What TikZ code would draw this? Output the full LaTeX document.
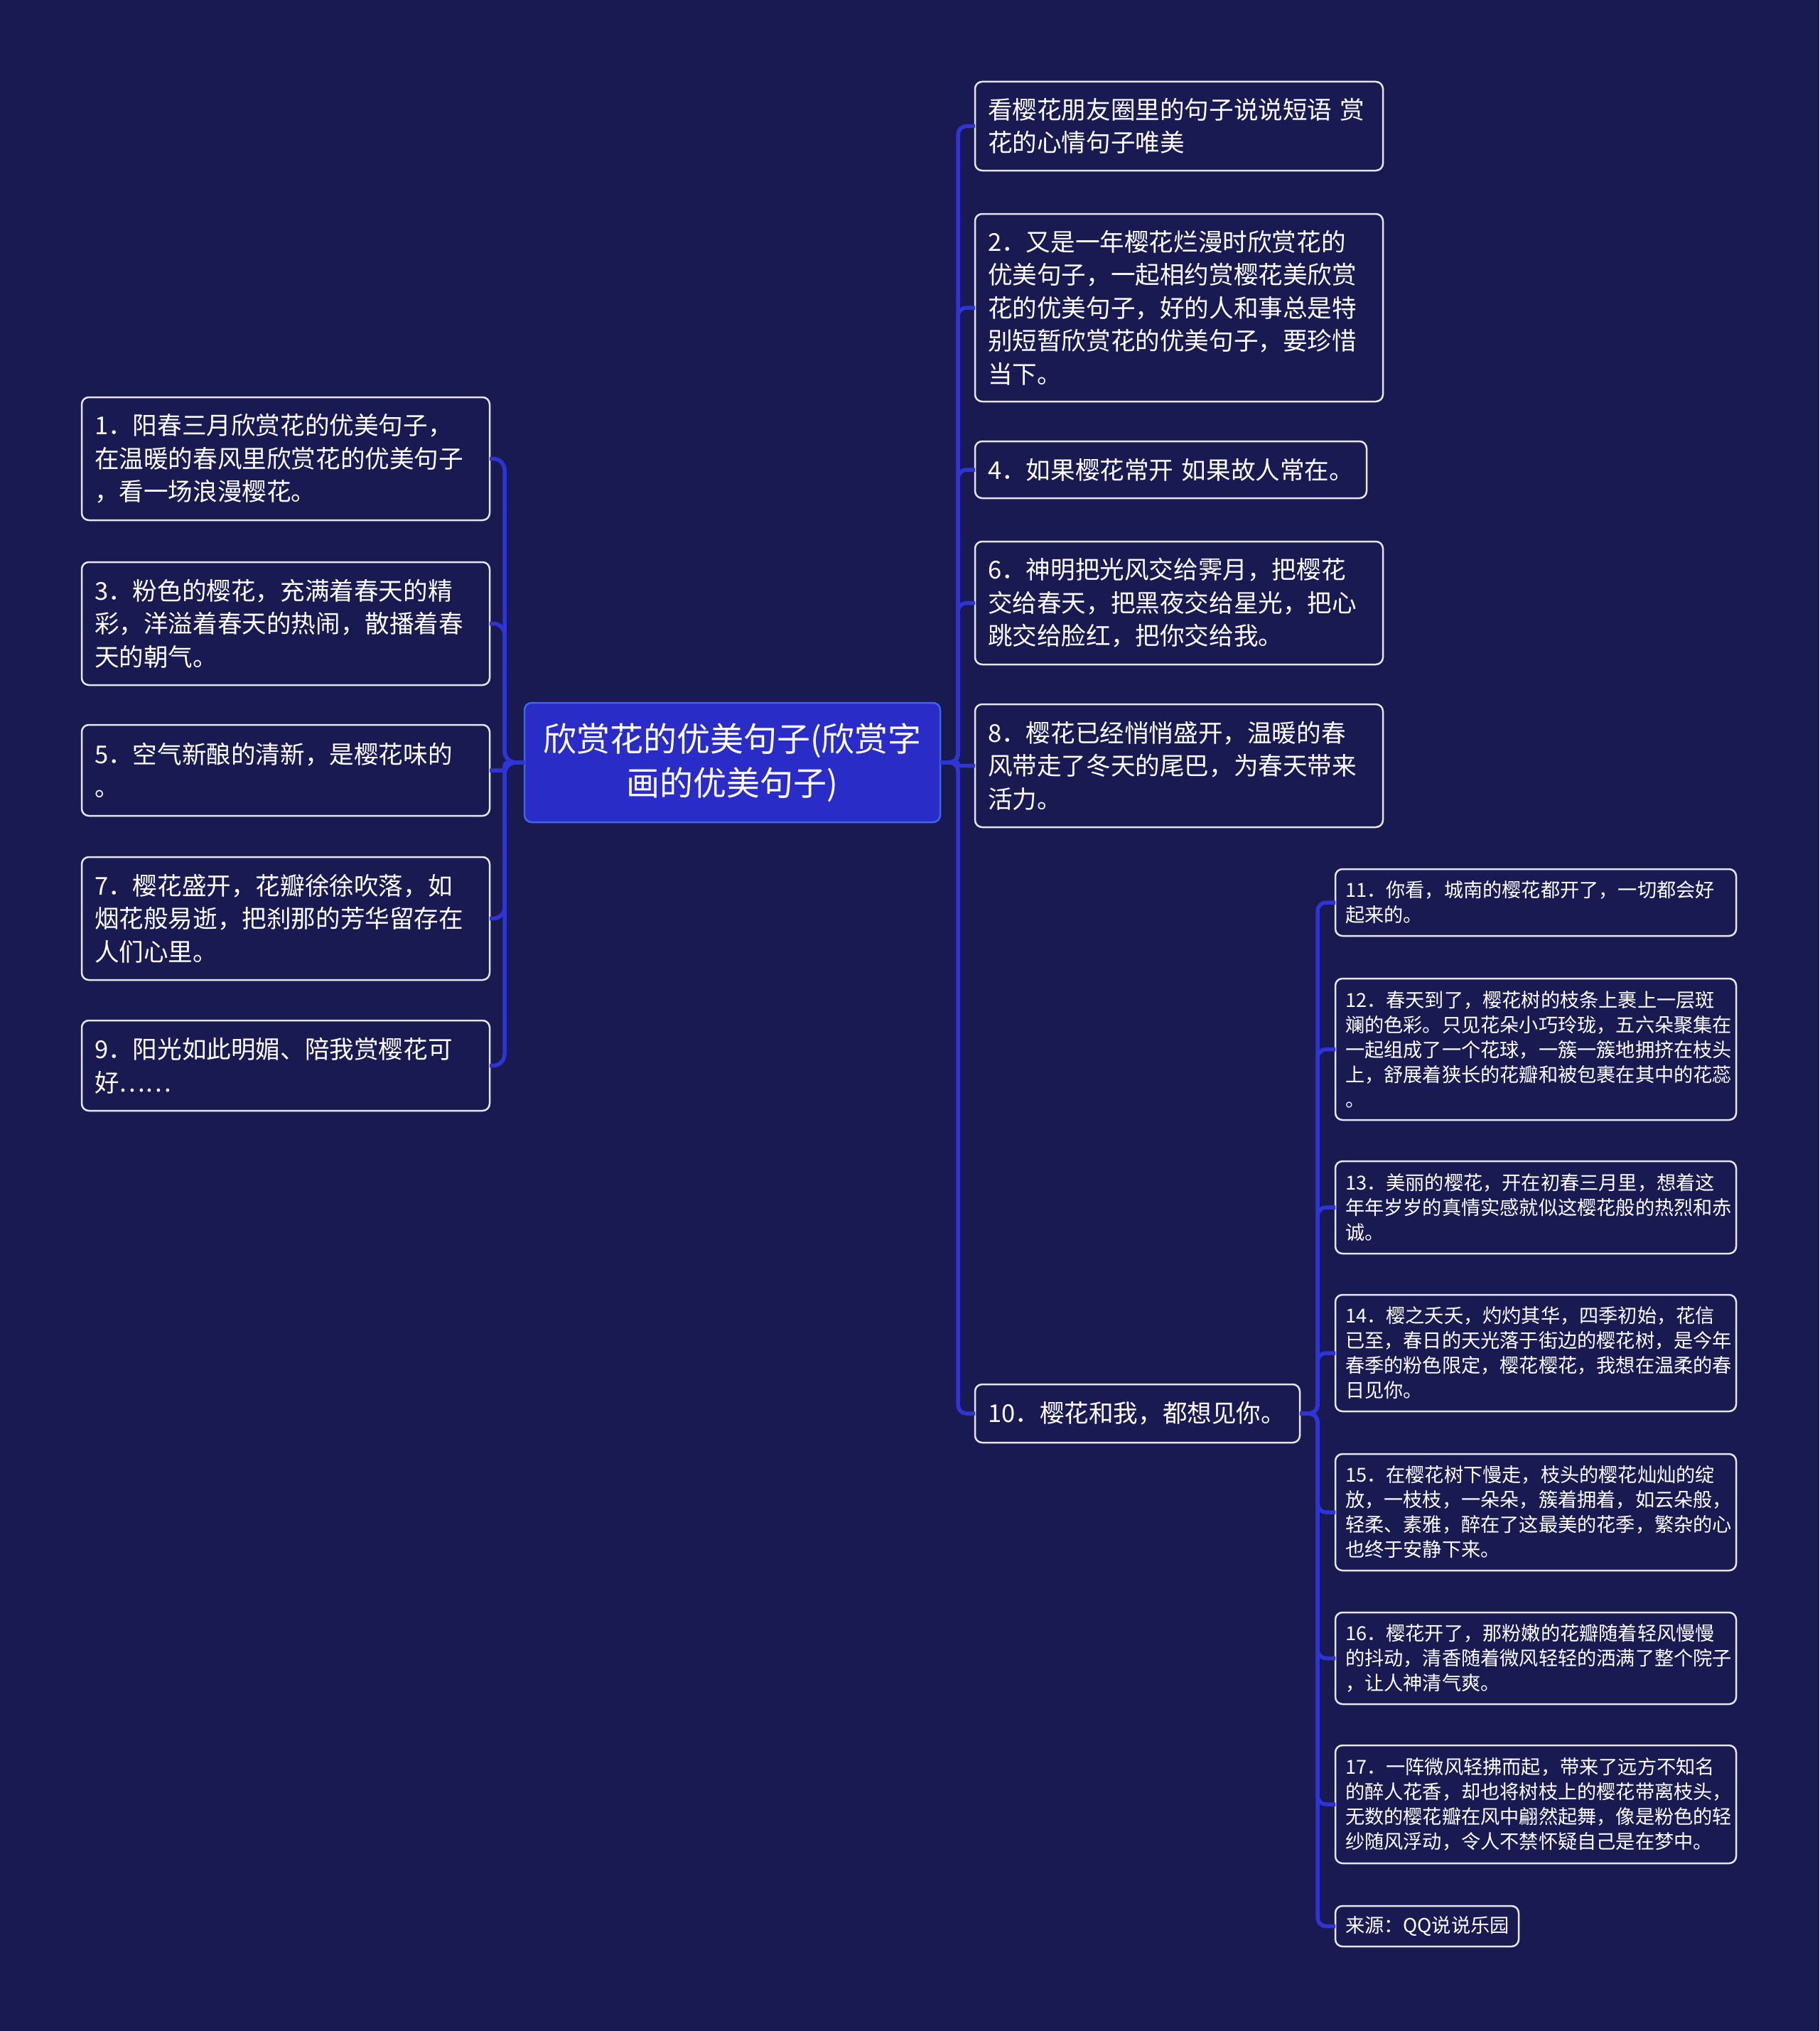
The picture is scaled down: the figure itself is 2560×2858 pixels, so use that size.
\documentclass[tikz,border=0pt]{standalone}
\usepackage{fontspec}
\setmainfont{Noto Sans CJK SC}
\definecolor{bg}{HTML}{1A1A52}
\definecolor{boxline}{HTML}{E6E6EE}
\definecolor{connc}{HTML}{2E34D6}
\definecolor{cfill}{HTML}{2A2CC8}
\definecolor{cline}{HTML}{3F66E6}
\begin{document}
\begin{tikzpicture}[x=1pt,y=-1pt,
  box/.style={draw=boxline, line width=2.5pt, rounded corners=10pt, fill=bg, text=white,
    anchor=north west, align=left, inner ysep=0pt, outer sep=0pt},
  lone/.style={box, font=\fontsize{34.6}{46.5}\selectfont, inner xsep=18pt, text width=538pt},
  ltwo/.style={box, font=\fontsize{27.2}{35}\selectfont, inner xsep=14pt, text width=536pt},
  centre/.style={draw=cline, line width=2.5pt, rounded corners=10pt, fill=cfill, text=white,
    align=center, inner sep=0pt, outer sep=0pt, minimum width=585pt, minimum height=168pt,
    font=\fontsize{47}{62}\selectfont},
  conn/.style={draw=connc, line width=5.5pt}]
\fill[bg] (0,0) rectangle (2560,2858);
\useasboundingbox (0,0) rectangle (2560,2858);

% central
\node[centre] (c) at (1030.5,1073) {欣赏花的优美句子(欣赏字\\画的优美句子)};

% left children
\node[lone, minimum height=173pt] (n1) at (115,559) {1．阳春三月欣赏花的优美句子，\\在温暖的春风里欣赏花的优美句子\\，看一场浪漫樱花。};
\node[lone, minimum height=173pt] (n3) at (115,791) {3．粉色的樱花，充满着春天的精\\彩，洋溢着春天的热闹，散播着春\\天的朝气。};
\node[lone, minimum height=128pt] (n5) at (115,1020) {5．空气新酿的清新，是樱花味的\\。};
\node[lone, minimum height=173pt] (n7) at (115,1206) {7．樱花盛开，花瓣徐徐吹落，如\\烟花般易逝，把刹那的芳华留存在\\人们心里。};
\node[lone, minimum height=127pt] (n9) at (115,1436) {9．阳光如此明媚、陪我赏樱花可\\好……};

% right level 1
\node[lone, minimum height=125pt] (nA) at (1372,115) {看樱花朋友圈里的句子说说短语~赏\\花的心情句子唯美};
\node[lone, minimum height=264pt] (n2) at (1372,301) {2．又是一年樱花烂漫时欣赏花的\\优美句子，一起相约赏樱花美欣赏\\花的优美句子，好的人和事总是特\\别短暂欣赏花的优美句子，要珍惜\\当下。};
\node[lone, minimum height=80pt, text width=515pt] (n4) at (1372,621) {4．如果樱花常开~如果故人常在。};
\node[lone, minimum height=173pt] (n6) at (1372,762) {6．神明把光风交给霁月，把樱花\\交给春天，把黑夜交给星光，把心\\跳交给脸红，把你交给我。};
\node[lone, minimum height=173pt] (n8) at (1372,991) {8．樱花已经悄悄盛开，温暖的春\\风带走了冬天的尾巴，为春天带来\\活力。};
\node[lone, minimum height=82pt, text width=421pt] (n10) at (1372,1948) {10．樱花和我，都想见你。};

% right level 2
\node[ltwo, minimum height=94pt] (n11) at (1879,1223) {11．你看，城南的樱花都开了，一切都会好\\起来的。};
\node[ltwo, minimum height=199pt] (n12) at (1879,1377) {12．春天到了，樱花树的枝条上裹上一层斑\\斓的色彩。只见花朵小巧玲珑，五六朵聚集在\\一起组成了一个花球，一簇一簇地拥挤在枝头\\上，舒展着狭长的花瓣和被包裹在其中的花蕊\\。};
\node[ltwo, minimum height=130pt] (n13) at (1879,1634) {13．美丽的樱花，开在初春三月里，想着这\\年年岁岁的真情实感就似这樱花般的热烈和赤\\诚。};
\node[ltwo, minimum height=164pt] (n14) at (1879,1822) {14．樱之夭夭，灼灼其华，四季初始，花信\\已至，春日的天光落于街边的樱花树，是今年\\春季的粉色限定，樱花樱花，我想在温柔的春\\日见你。};
\node[ltwo, minimum height=164pt] (n15) at (1879,2046) {15．在樱花树下慢走，枝头的樱花灿灿的绽\\放，一枝枝，一朵朵，簇着拥着，如云朵般，\\轻柔、素雅，醉在了这最美的花季，繁杂的心\\也终于安静下来。};
\node[ltwo, minimum height=129pt] (n16) at (1879,2269) {16．樱花开了，那粉嫩的花瓣随着轻风慢慢\\的抖动，清香随着微风轻轻的洒满了整个院子\\，让人神清气爽。};
\node[ltwo, minimum height=166pt] (n17) at (1879,2456) {17．一阵微风轻拂而起，带来了远方不知名\\的醉人花香，却也将树枝上的樱花带离枝头，\\无数的樱花瓣在风中翩然起舞，像是粉色的轻\\纱随风浮动，令人不禁怀疑自己是在梦中。};
\node[ltwo, minimum height=57pt, text width=230pt] (src) at (1879,2682) {来源：QQ说说乐园};

% spines
\coordinate (ls) at (710,0);
\coordinate (rs) at (1348,0);
\coordinate (ts) at (1854,0);

% left connectors
\foreach \n in {n1,n3,n7,n9}
  \draw[conn, rounded corners=16pt] (c.west) -- (c.west -| ls) |- (\n.east);
\draw[conn, rounded corners=4pt] (c.west) -- (c.west -| ls) |- (n5.east);

% right level-1 connectors
\foreach \n in {nA,n2,n4,n6,n10}
  \draw[conn, rounded corners=12pt] (c.east) -- (c.east -| rs) |- (\n.west);
\draw[conn, rounded corners=2pt] (c.east) -- (c.east -| rs) |- (n8.west);

% level-2 connectors
\foreach \n in {n11,n12,n13,n14,n15,n16,n17,src}
  \draw[conn, rounded corners=12pt] (n10.east) -- (n10.east -| ts) |- (\n.west);
\end{tikzpicture}
\end{document}
